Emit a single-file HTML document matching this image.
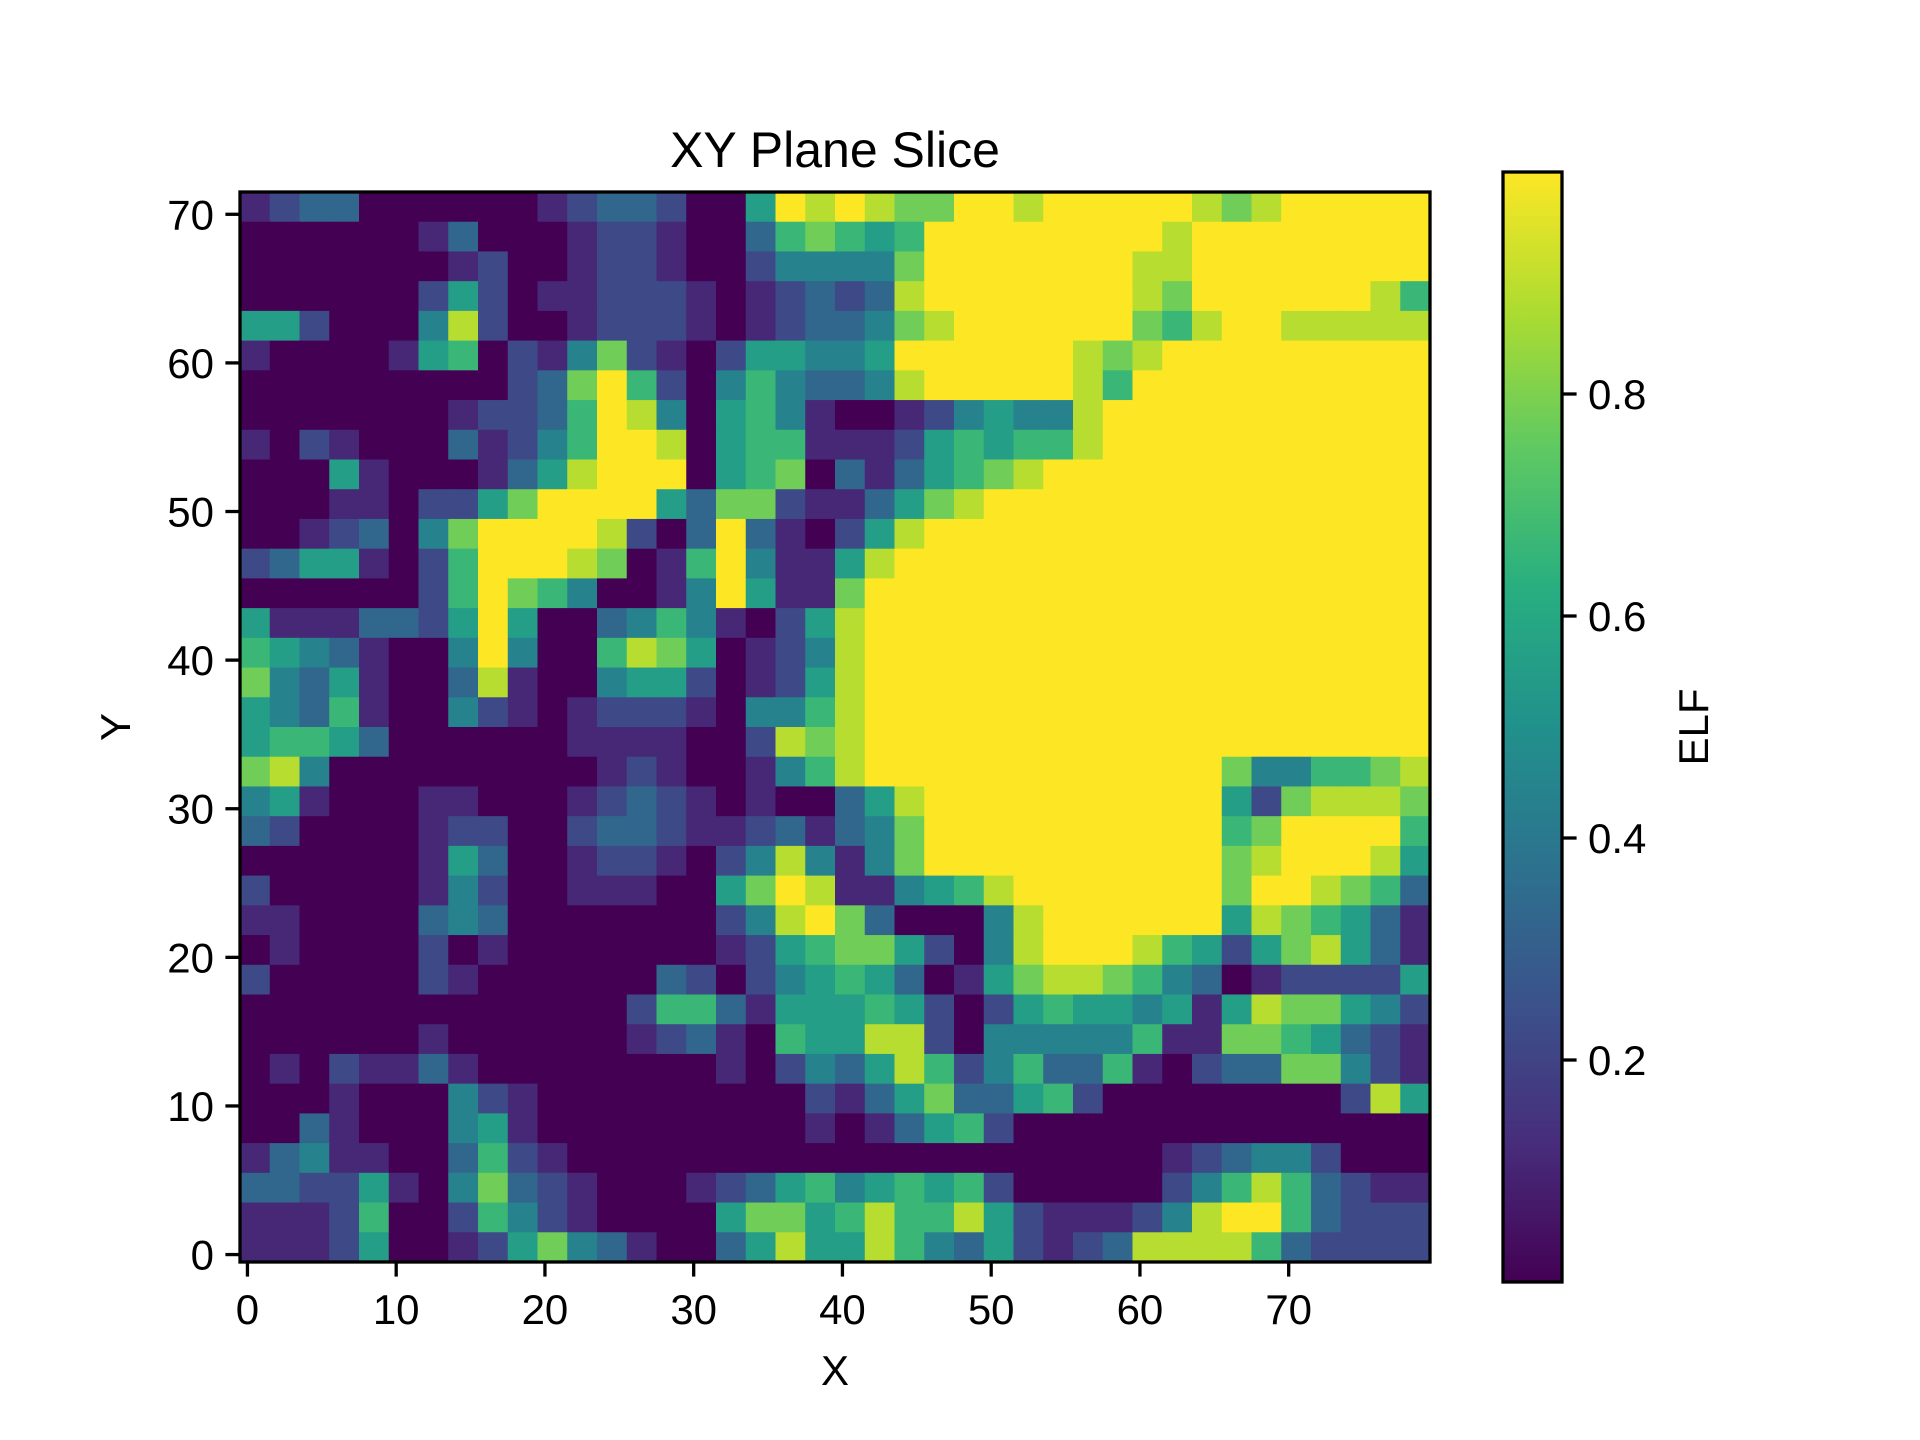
<!DOCTYPE html>
<html><head><meta charset="utf-8"><style>
html,body{margin:0;padding:0;background:#fff;}
svg{display:block;font-family:"Liberation Sans","DejaVu Sans",sans-serif;}
</style></head><body>
<svg id="chart" width="1920" height="1440" viewBox="0 0 1920 1440" xmlns="http://www.w3.org/2000/svg">
<rect width="1920" height="1440" fill="#fff"/>
<defs><linearGradient id="cbg" x1="0" y1="1" x2="0" y2="0">
<stop offset="0" stop-color="#440154"/><stop offset="0.125" stop-color="#472d7b"/><stop offset="0.25" stop-color="#3b528b"/><stop offset="0.375" stop-color="#2c728e"/><stop offset="0.5" stop-color="#21918c"/><stop offset="0.625" stop-color="#28ae80"/><stop offset="0.75" stop-color="#5ec962"/><stop offset="0.875" stop-color="#addc30"/><stop offset="1" stop-color="#fde725"/></linearGradient></defs>
<text x="835" y="167" font-size="50" text-anchor="middle">XY Plane Slice</text>
<g id="cells"></g>
<rect x="240" y="192" width="1190" height="1070" fill="none" stroke="#000" stroke-width="3.3"/>
<g id="xticks"></g>
<g id="yticks"></g>
<text x="835" y="1385" font-size="42" text-anchor="middle">X</text>
<text x="130" y="727" font-size="42" text-anchor="middle" transform="rotate(-90 130 727)">Y</text>
<rect x="1503" y="172" width="59" height="1110" fill="url(#cbg)" stroke="#000" stroke-width="3.3"/>
<g id="cbticks"></g>
<text x="1708" y="727" font-size="42" text-anchor="middle" transform="rotate(-90 1708 727)">ELF</text>
</svg>
<script>
const gridRows = [
"1233000000123320059898779989999987899999",
"0000001300012210036765699999999899999999",
"0000000120012210024444799999998899999999",
"0000002520112221012323899999998799999986",
"5520004820012221012334789999997689988888",
"1000015602147210255445999999878999999999",
"0000000002379620464334899999869999999999",
"0000000122369840564100124544899999999999",
"1021000312469980566111256566899999999999",
"0005100013589990567031356789999999999999",
"0001102257999953772113578999999999999999",
"0012304799998203931025899999999999999999",
"2355102699987016941158999999999999999999",
"0000002697640014951179999999999999999999",
"5111332595003464102589999999999999999999",
"6543100494006875012489999999999999999999",
"7435100381004552012589999999999999999999",
"5436100421012221044689999999999999999999",
"5665300000011110028789999999999999999999",
"7840000000001210014689999999999997446678",
"4510001100012321010035899999999995278887",
"3200001220023321123134799999999996799996",
"0000001530012210248414799999999997899985",
"2000001420011100579811456899999997998763",
"1100003430000000248973000489999995876531",
"0100002010000000125677520489998652578531",
"2000002100000032024565301578876430122225",
"0000000000000266315556520256554515877542",
"0000001000000123106558820444446117765321",
"0102113100000000102435862463361023377421",
"0001000421000000000213573356200000000285",
"0031000451000000000101356200000000000000",
"1341100362100000000000000000000123442000",
"3322510473210001235645656200000246863211",
"1112600264210000577568668521112489963222",
"1112500125743100358558643521238888632222"
];
const xTickValues = [0,10,20,30,40,50,60,70];
const yTickValues = [0,10,20,30,40,50,60,70];
const cbTickValues = [0.2,0.4,0.6,0.8];
const cbTickLabels = ["0.2","0.4","0.6","0.8"];

const NS="http://www.w3.org/2000/svg";
const X0=240,X1=1430,Y0=1262,Y1=192;
function xs(v){return X0+(v+0.5)/80*(X1-X0);}
function ys(v){return Y0-(v+0.5)/72*(Y0-Y1);}
function cbs(v){return 1282-v*(1282-172);}
const stops=["#440154","#472d7b","#3b528b","#2c728e","#21918c","#28ae80","#5ec962","#addc30","#fde725"];
function hex(h){return [1,3,5].map(i=>parseInt(h.substr(i,2),16));}
function viridis(t){t=Math.max(0,Math.min(1,t));const p=t*8,i=Math.min(7,Math.floor(p)),f=p-i;const a=hex(stops[i]),b=hex(stops[i+1]);return "rgb("+a.map((c,k)=>Math.round(c+(b[k]-c)*f)).join(",")+")";}
function mk(tag,attrs,parent){const e=document.createElementNS(NS,tag);for(const k in attrs)e.setAttribute(k,attrs[k]);parent.appendChild(e);return e;}
const cells=document.getElementById('cells');
gridRows.forEach((row,r)=>{
  for(let c=0;c<row.length;c++){
    const v=parseInt(row[c])/9;
    const yTop=71-2*r;
    const x=xs(2*c-0.5), w=xs(2*c+1.5)-x;
    const y=ys(yTop+0.5), h=ys(yTop-1.5)-y;
    const e=mk('rect',{x:x.toFixed(2),y:y.toFixed(2),width:(w+0.6).toFixed(2),height:(h+0.6).toFixed(2),fill:viridis(v)},cells);
    
    
  }
});
const xt=document.getElementById('xticks');
xTickValues.forEach(v=>{
  const x=xs(v);
  const l=mk('line',{x1:x,y1:Y0,x2:x,y2:Y0+14.6,stroke:'#000','stroke-width':3.3},xt);
  
  
  const t=mk('text',{x:x,y:1324,'font-size':42,'text-anchor':'middle'},xt);
  
  
  t.textContent=v;
});
const yt=document.getElementById('yticks');
yTickValues.forEach(v=>{
  const y=ys(v);
  const l=mk('line',{x1:X0,y1:y,x2:X0-14.6,y2:y,stroke:'#000','stroke-width':3.3},yt);
  
  
  const t=mk('text',{x:214,y:y+15,'font-size':42,'text-anchor':'end'},yt);
  
  
  t.textContent=v;
});
const ct=document.getElementById('cbticks');
cbTickValues.forEach((v,i)=>{
  const y=cbs(v);
  const l=mk('line',{x1:1562,y1:y,x2:1576.6,y2:y,stroke:'#000','stroke-width':3.3},ct);
  
  
  const t=mk('text',{x:1588,y:y+15,'font-size':42},ct);
  
  
  t.textContent=cbTickLabels[i];
});
</script>
</body></html>
